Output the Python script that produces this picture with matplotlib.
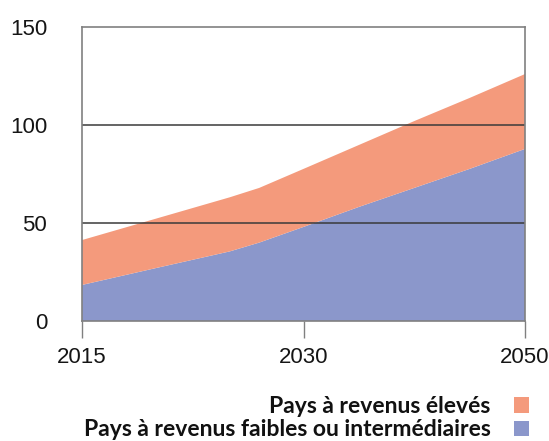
import numpy as np
import matplotlib
matplotlib.use("Agg")
import matplotlib.pyplot as plt
from matplotlib.patches import Patch

# values (stacked areas)
years = [2015, 2020, 2025, 2027, 2030, 2035, 2040, 2045, 2050]
low_mid_income = [18.4, 27.0, 35.5, 40.0, 48.0, 58.2, 67.9, 77.6, 87.8]
high_income = [22.9, 25.2, 27.6, 27.9, 29.6, 31.6, 34.1, 36.2, 38.2]

tick_years = [2015, 2030, 2050]
y_ticks = [0, 50, 100, 150]
labels = ["Pays à revenus élevés", "Pays à revenus faibles ou intermédiaires"]

col_high = "#f49a7c"
col_low = "#8b97cb"

# the original axis puts the three tick years at equal spacing
pos = np.interp(years, tick_years, range(len(tick_years)))

fig = plt.figure(figsize=(5.49, 4.41), dpi=100)
ax = fig.add_axes([0.1494, 0.2721, 0.8069, 0.6667])

ax.stackplot(pos, low_mid_income, high_income, colors=[col_low, col_high], linewidth=0)

for v in [50, 100]:
    ax.axhline(v, color="#3a3a3a", lw=1.1, zorder=5)

ax.set_xlim(0, len(tick_years) - 1)
ax.set_ylim(0, 150)
ax.set_xticks(range(len(tick_years)))
ax.set_xticklabels([str(t) for t in tick_years])
ax.set_yticks(y_ticks)

tick_font = ["Liberation Sans", "DejaVu Sans"]
for lab in ax.get_xticklabels() + ax.get_yticklabels():
    lab.set_family(tick_font)
    lab.set_fontsize(16)
    lab.set_color("#151515")

ax.tick_params(axis="x", direction="out", length=12, width=1, color="#808080", pad=7)
ax.tick_params(axis="y", length=0, pad=25)

for s in ax.spines.values():
    s.set_color("#808080")
    s.set_linewidth(1.2)
    s.set_zorder(6)

handles = [Patch(facecolor=col_high, edgecolor="none"), Patch(facecolor=col_low, edgecolor="none")]
leg = fig.legend(handles, labels, loc="lower right", bbox_to_anchor=(0.988, -0.03),
                 frameon=False, markerfirst=False, handlelength=0.65, handleheight=0.65,
                 handletextpad=1.0, labelspacing=0.1, borderaxespad=0.2,
                 prop={"family": ["Lato", "DejaVu Sans"], "weight": "bold", "size": 16.5})
for t in leg.get_texts():
    t.set_color("#111111")

fig.savefig("out.png", dpi=100)
plt.close(fig)
